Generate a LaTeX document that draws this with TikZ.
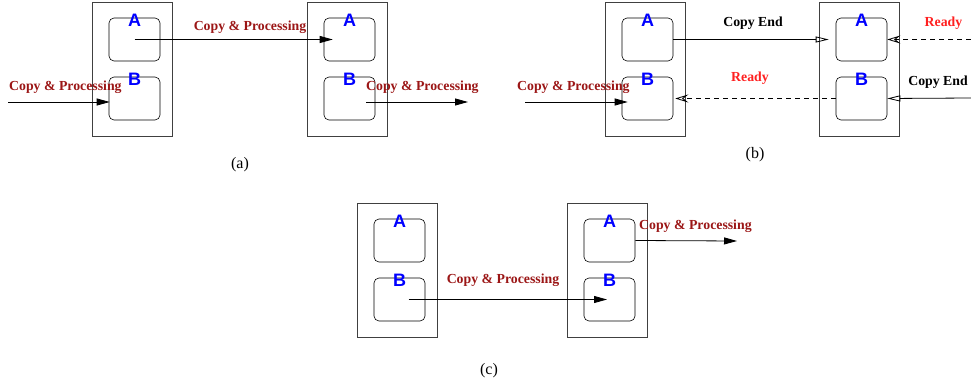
\documentclass[tikz,border=0pt]{standalone}
\usepackage{fontspec}
\setmainfont{Liberation Serif}
\setsansfont{Liberation Sans}
\usetikzlibrary{arrows.meta}

\definecolor{cpred}{RGB}{155,22,22}
\definecolor{rdyred}{RGB}{255,32,32}

\tikzset{
  unit/.style={draw=black!75, line width=0.8pt, minimum width=80pt, minimum height=134pt, inner sep=0pt},
  buf/.style={draw, rounded corners=5pt, line width=0.6pt, minimum width=51pt, minimum height=43pt, inner sep=0pt},
  bufname/.style={text=blue, font=\sffamily\bfseries\fontsize{18}{18}\selectfont, inner sep=0pt, anchor=base},
  cplabel/.style={text=cpred, font=\bfseries\fontsize{13.8}{16}\selectfont, inner sep=0pt},
  endlabel/.style={text=black, font=\bfseries\fontsize{13.8}{16}\selectfont, inner sep=0pt},
  rdylabel/.style={text=rdyred, font=\bfseries\fontsize{13.8}{16}\selectfont, inner sep=0pt},
  caption/.style={font=\fontsize{16}{18}\selectfont, inner sep=0pt},
  fwd/.style={line width=0.8pt, -{Triangle[length=13pt,width=7pt]}},
  done/.style={line width=0.8pt, -{Triangle[open,length=13pt,width=6pt]}},
  ready/.style={line width=0.8pt, dash pattern=on 5pt off 4pt, -{Stealth[open,length=13pt,width=8pt,inset=5pt]}}
}

\begin{document}
\begin{tikzpicture}[x=1pt,y=-1pt]
    \useasboundingbox (0,0) rectangle (971,390);
    % create the units with their two buffers
    \foreach \u/\x/\y in {aL/132/69, aR/347/69, bL/645/69, bR/859/69, cL/397/270, cR/607/270}{
        \node[unit] (\u) at (\x,\y) {};
        \node[buf] (\u-A) at (\x+2.5,\y-29.5) {};
        \node[buf] (\u-B) at (\x+2.5,\y+29.5) {};
        \node[bufname] at ([yshift=-9pt]\u-A.north) {A};
        \node[bufname] at ([yshift=-8.5pt]\u-B.north) {B};
    }
    % free ends
    \coordinate (aIn) at (8,102);
    \coordinate (aOutStart) at (366,102);
    \coordinate (aOut) at (468,102);
    \coordinate (bIn) at (525,102);
    \coordinate (bReady) at (971,39.5);
    \coordinate (bEnd) at (971,98);
    \coordinate (cOut) at (737,241);
    % (a)
    \draw[fwd] (aIn) -- ([xshift=1pt]aIn -| aL-B.west);
    \draw[fwd] (aL-A.center) -- ([xshift=9pt]aR-A.west);
    \draw[fwd] (aOutStart) -- (aOut);
    \node[cplabel, anchor=base west] at (9,90.5) {Copy \& Processing};
    \node[cplabel, anchor=base] at (250,31) {Copy \& Processing};
    \node[cplabel, anchor=base west] at (366,90.5) {Copy \& Processing};
    \node[caption] (capA) at (240,165) {(a)};
    % (b)
    \draw[done] (bL-A.east) -- ([xshift=-7pt]bR-A.west);
    \draw[ready] (bR-B.west) -- ([xshift=2pt]bL-B.east);
    \draw[fwd] (bIn) -- ([xshift=6pt]bIn -| bL-B.west);
    \draw[ready] (bReady) -- (bR-A.east);
    \draw[done] (bEnd) -- (bR-B.east);
    \node[endlabel, anchor=base] at (753,27) {Copy End};
    \node[rdylabel, anchor=base] at (750,82) {Ready};
    \node[cplabel, anchor=base west] at (517,90.5) {Copy \& Processing};
    \node[rdylabel, anchor=base] at (943.5,27) {Ready};
    \node[endlabel, anchor=base] at (938,85.3) {Copy End};
    \node[caption] (capB) at (755,155) {(b)};
    % (c)
    \draw[fwd] ([xshift=9pt]cL-B.center) -- ([xshift=-2.5pt]cR-B.center);
    \draw[fwd] (cR-A.east) -- (cOut);
    \node[cplabel, anchor=base] at (503,283) {Copy \& Processing};
    \node[cplabel, anchor=base west] at (639,229.3) {Copy \& Processing};
    \node[caption] (capC) at (489,370.5) {(c)};
\end{tikzpicture}
\end{document}
